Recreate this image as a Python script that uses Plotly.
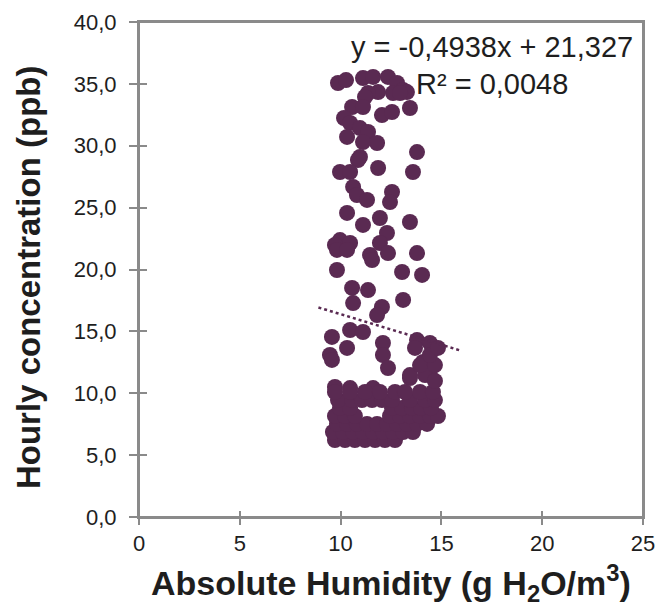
import plotly.graph_objects as go

# Scatter data (absolute humidity g/m3, hourly concentration ppb)
hum = [
    # top cluster
    9.87, 10.27, 11.11, 11.61, 12.35, 12.80, 13.10, 13.29, 11.86, 11.36, 12.60, 12.95, 11.21,
    10.57, 11.11, 13.44, 12.05, 12.55, 10.17, 10.47, 10.96, 10.32, 11.36, 11.81, 11.11, 13.79, 10.96,
    # middle
    10.86, 9.97, 10.47, 11.86, 13.59, 10.62, 10.81, 11.31, 12.55, 12.45, 10.32, 11.11, 11.95, 13.44,
    12.30, 9.97, 9.72, 10.47, 11.95, 13.79, 11.46,
    9.82, 10.32, 11.56, 12.35, 9.82, 13.05, 14.04, 10.57, 11.36, 10.62, 13.10, 12.05, 11.81,
    10.47, 11.11, 9.57, 12.10, 13.79, 14.43,
    # lower middle
    9.47, 9.57, 10.32, 12.10, 12.35, 14.09, 9.72, 10.47, 11.61, 13.44, 14.43,
    # bottom cluster
    9.72, 10.22, 10.71, 11.21, 11.71, 12.20, 12.70,
    9.62, 10.12, 10.62, 11.11, 11.61, 12.10, 12.60, 13.10, 13.59,
    9.82, 10.32, 10.81, 11.31, 11.81, 12.30, 12.80, 13.29, 13.79, 14.29,
    9.72, 10.22, 10.71, 12.45, 12.95, 13.44, 13.94, 14.43, 14.83,
    9.97, 10.47, 12.55, 13.05, 13.54, 13.99, 14.48,
    9.87, 10.57, 11.06, 11.56, 12.05, 12.55, 13.44, 14.19, 14.68,
    9.72, 10.47, 11.21, 11.95, 12.70, 13.19, 13.94, 14.58,
    13.44, 14.19, 14.68, 13.94, 14.68, 14.43, 13.69, 14.83,
]
conc = [
    35.07, 35.31, 35.47, 35.56, 35.56, 35.07, 34.51, 34.34, 34.34, 34.26, 34.26, 34.26, 33.94,
    33.13, 33.13, 33.05, 32.48, 32.73, 32.24, 31.84, 31.43, 30.71, 31.11, 30.22, 30.30, 29.49, 29.09,
    28.85, 27.88, 27.88, 28.20, 27.88, 26.67, 26.02, 25.62, 26.26, 25.45, 24.57, 23.60, 24.16, 23.84,
    22.95, 22.38, 21.98, 22.14, 22.14, 21.33, 21.17,
    21.58, 21.58, 20.77, 21.33, 19.96, 19.80, 19.56, 18.51, 18.34, 17.29, 17.54, 16.97, 16.32,
    15.11, 14.95, 14.55, 14.06, 14.30, 14.06,
    13.09, 12.69, 13.66, 13.09, 12.04, 12.53, 10.51, 10.42, 10.42, 11.23, 11.47,
    6.22, 6.22, 6.22, 6.22, 6.22, 6.22, 6.22,
    6.87, 6.87, 6.87, 6.87, 6.87, 6.87, 6.87, 6.87, 6.87,
    7.52, 7.52, 7.52, 7.52, 7.52, 7.52, 7.52, 7.52, 7.52, 7.52,
    8.16, 8.16, 8.16, 8.16, 8.16, 8.16, 8.16, 8.16, 8.16,
    8.81, 8.81, 8.81, 8.81, 8.81, 8.81, 8.81,
    9.45, 9.45, 9.45, 9.45, 9.45, 9.45, 9.45, 9.45, 9.45,
    10.10, 10.10, 10.10, 10.10, 10.10, 10.10, 10.10, 10.10,
    11.47, 11.47, 11.00, 12.28, 12.28, 13.09, 13.66, 13.66,
]

# Linear trendline
slope = -0.4938
intercept = 21.327
trend_x = [8.9, 16.0]
trend_y = [slope * v + intercept for v in trend_x]

x_ticks = [0, 5, 10, 15, 20, 25]
y_ticks = [0, 5, 10, 15, 20, 25, 30, 35, 40]

x_title = "<b>Absolute Humidity (g H<sub>2</sub>O/m<sup>3</sup>)</b>"
y_title = "<b>Hourly concentration (ppb)</b>"
eq_text = "y = -0,4938x + 21,327"
r2_text = "R² = 0,0048"

color = "#5a2a52"
axis_color = "#8a8a8a"
text_color = "#1e1e1e"
FONT = "Liberation Sans, Arial, sans-serif"

fig = go.Figure()
fig.add_trace(go.Scatter(
    x=hum, y=conc, mode="markers",
    marker=dict(size=16, color=color, line=dict(width=0)),
    showlegend=False, hoverinfo="skip",
))
fig.add_trace(go.Scatter(
    x=trend_x, y=trend_y, mode="lines",
    line=dict(color=color, width=2.5, dash="dot"),
    showlegend=False, hoverinfo="skip",
))
# empty trace bound to the overlay axes (used only for inner tick marks)
fig.add_trace(go.Scatter(x=[None], y=[None], xaxis="x2", yaxis="y2",
                         showlegend=False, hoverinfo="skip"))

fig.add_annotation(x=17.5, y=38.0, xref="x", yref="y", showarrow=False,
                   text=eq_text, xanchor="center", yanchor="middle",
                   font=dict(size=29, color=text_color, family=FONT))
fig.add_annotation(x=17.5, y=35.0, xref="x", yref="y", showarrow=False,
                   text=r2_text, xanchor="center", yanchor="middle",
                   font=dict(size=29, color=text_color, family=FONT))
# axis titles
fig.add_annotation(x=0.5, y=-0.133, xref="paper", yref="paper", showarrow=False,
                   text=x_title, xanchor="center", yanchor="middle",
                   font=dict(size=34, color=text_color, family=FONT))
fig.add_annotation(x=-0.218, y=0.485, xref="paper", yref="paper", showarrow=False,
                   text=y_title, textangle=-90, xanchor="center", yanchor="middle",
                   font=dict(size=33, color=text_color, family=FONT))

# plot-area frame (top and right borders)
fig.add_shape(type="rect", xref="paper", yref="paper", x0=0, x1=1, y0=0, y1=1,
              line=dict(color=axis_color, width=2), layer="below")

fig.update_layout(
    width=660, height=610,
    margin=dict(l=139, r=17, t=22, b=93),
    paper_bgcolor="white", plot_bgcolor="white",
    separators=", ",
    font=dict(family=FONT, color=text_color),
    xaxis=dict(
        range=[0, 25], tickvals=x_ticks, showgrid=False, zeroline=False,
        showline=True, linecolor=axis_color, linewidth=2, mirror=True,
        ticks="outside", ticklen=6, tickcolor=axis_color, tickwidth=1.5,
        tickfont=dict(size=22, color=text_color), ticklabelstandoff=0,
        automargin=False,
    ),
    yaxis=dict(
        range=[0, 40], tickvals=y_ticks, tickformat=".1f", showgrid=False, zeroline=False,
        showline=True, linecolor=axis_color, linewidth=2, mirror=True,
        ticks="outside", ticklen=8, tickcolor=axis_color, tickwidth=1.5,
        tickfont=dict(size=22, color=text_color), ticklabelstandoff=8,
        automargin=False,
    ),
    xaxis2=dict(
        range=[0, 25], tickvals=x_ticks, overlaying="x", anchor="y", side="bottom",
        showgrid=False, zeroline=False, showline=False, showticklabels=False,
        ticks="inside", ticklen=6, tickcolor=axis_color, tickwidth=1.5,
    ),
    yaxis2=dict(
        range=[0, 40], tickvals=y_ticks, overlaying="y", anchor="x", side="left",
        showgrid=False, zeroline=False, showline=False, showticklabels=False,
        ticks="inside", ticklen=8, tickcolor=axis_color, tickwidth=1.5,
    ),
)

fig.write_html(
    "out.html",
    config={"displayModeBar": False},
    post_script="document.body.style.margin='0';document.body.style.overflow='hidden';",
)
